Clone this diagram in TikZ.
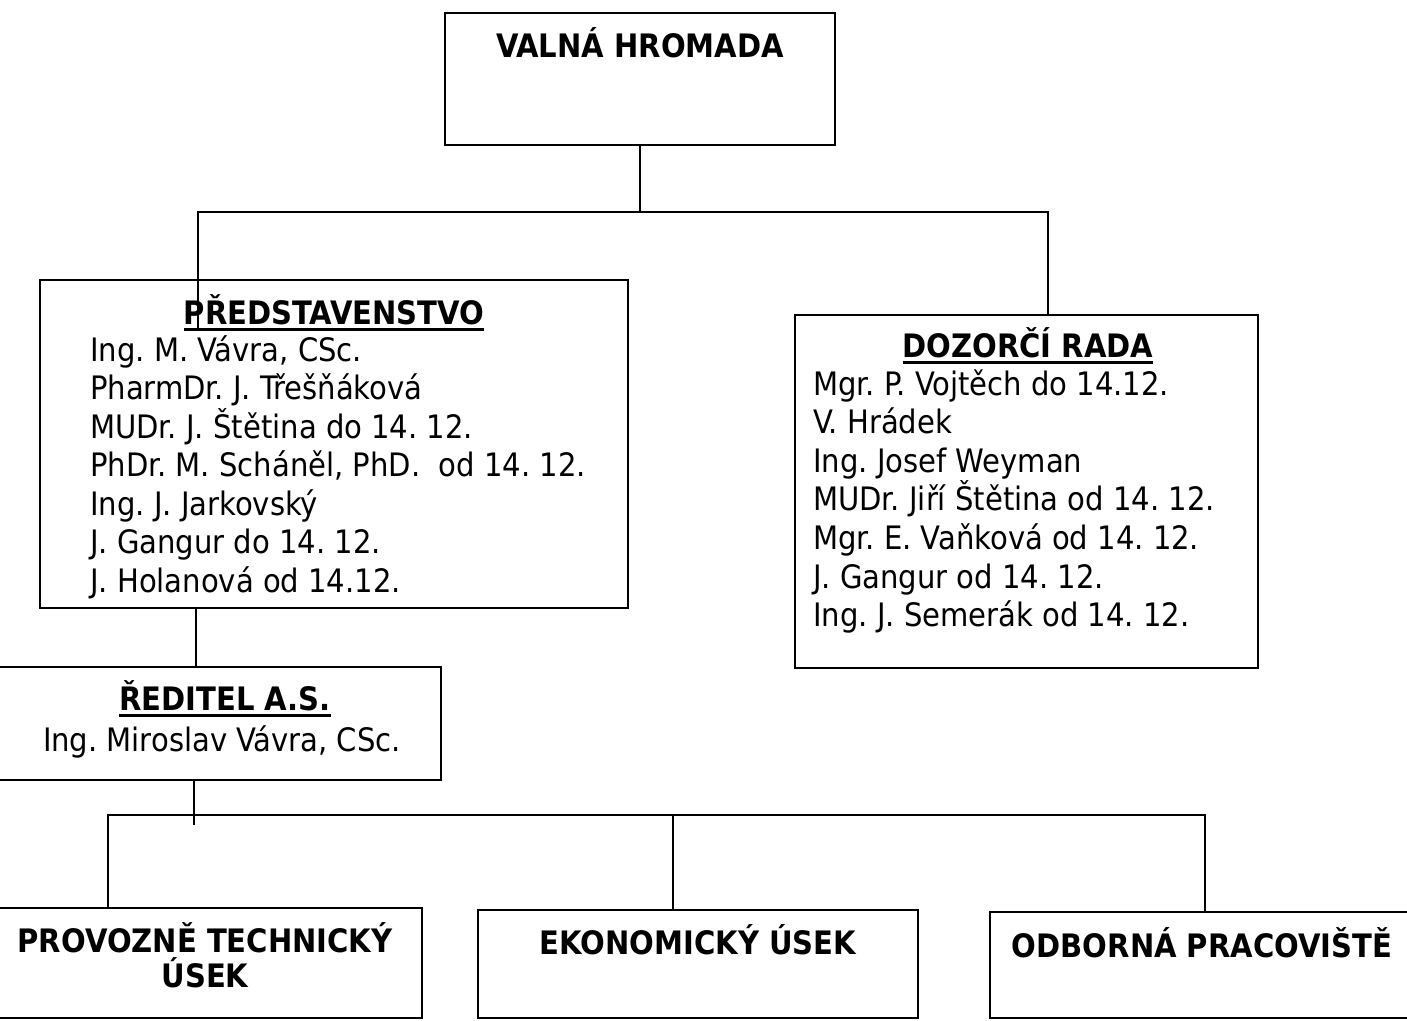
\documentclass[tikz,border=0pt]{standalone}
\usepackage{fontspec}
\setmainfont{DejaVu Sans Condensed}[BoldFont={DejaVu Sans Condensed Bold}]
\frenchspacing
\newcommand{\podtrh}[1]{\setbox0\hbox{#1}\rlap{\rule[-7pt]{\wd0}{2.8pt}}\box0}
\tikzset{%
    orgbox/.style={draw, line width=1.5pt, inner sep=0pt},
    spoj/.style={line width=1.5pt},
    titul/.style={anchor=base, inner sep=0pt, font=\fontsize{32.3}{38}\selectfont\bfseries},
    clen/.style={anchor=base west, inner sep=0pt, font=\fontsize{32.3}{38}\selectfont}
}

\begin{document}
\begin{tikzpicture}[x=1pt,y=-1pt]
\useasboundingbox (0,0) rectangle (1407,1020);

% boxes
\node[orgbox, minimum width=390pt, minimum height=132pt] (valna) at (640,79) {};
\node[orgbox, minimum width=588pt, minimum height=328pt] (pred) at (334,444) {};
\node[orgbox, minimum width=463pt, minimum height=353pt] (dozor) at (1026.5,491.5) {};
\node[orgbox, minimum width=453pt, minimum height=113pt] (redit) at (214.5,723.5) {};
\node[orgbox, minimum width=434pt, minimum height=110pt] (prov) at (205,963) {};
\node[orgbox, minimum width=440pt, minimum height=108pt] (ekon) at (698,964) {};
\node[orgbox, minimum width=430pt, minimum height=106pt] (odb) at (1205,965) {};

% texts
\node[titul] (valnaT) at (640,57) {VALNÁ HROMADA};
\node[titul] (predT) at (334,324) {\podtrh{PŘEDSTAVENSTVO}};
\foreach \jm [count=\i] in {{Ing. M. Vávra, CSc.}, PharmDr. J. Třešňáková, MUDr. J. Štětina do 14. 12., {PhDr. M. Scháněl, PhD.\ \ od 14. 12.}, Ing. J. Jarkovský, J. Gangur do 14. 12., J. Holanová od 14.12.}
  \node[clen] (pc\i) at (90,{361+38.5*(\i-1)}) {\jm};

\node[titul] (dozorT) at (1028,357) {\podtrh{DOZORČÍ RADA}};
\foreach \jm [count=\i] in {Mgr. P. Vojtěch do 14.12., V. Hrádek, Ing. Josef Weyman, MUDr. Jiří Štětina od 14. 12., Mgr. E. Vaňková od 14. 12., J. Gangur od 14. 12., Ing. J. Semerák od 14. 12.}
  \node[clen] (dc\i) at (813,{395+38.6*(\i-1)}) {\jm};

\node[titul] (reditT) at (225,710) {\podtrh{ŘEDITEL A.S.}};
\node[clen, anchor=base] (reditJ) at (222,751) {Ing. Miroslav Vávra, CSc.};

\node[titul] (provT) at (205,952) {PROVOZNĚ TECHNICKÝ};
\node[titul] (provT2) at (205,987) {ÚSEK};
\node[titul] (ekonT) at (698,954) {EKONOMICKÝ ÚSEK};
\node[titul] (odbT) at (1202,957) {ODBORNÁ PRACOVIŠTĚ};

% connectors
\coordinate (uzel1) at (640,212);
\coordinate (lp) at (198,330);
\coordinate (pp) at (1048,0);
\draw[spoj] (valna.south) -- (uzel1);
\draw[spoj] (uzel1) -| (lp);
\draw[spoj] (uzel1) -| (pp |- dozor.north);

\coordinate (pr) at (196,0);
\draw[spoj] (pr |- pred.south) -- (pr |- redit.north);

\coordinate (rs) at (194,825);
\draw[spoj] (rs |- redit.south) -- (rs);
\coordinate (s1) at (108,815);
\coordinate (s2) at (673,815);
\coordinate (s3) at (1205,815);
\draw[spoj] (s1 |- prov.north) -- (s1) -- (s3) -- (s3 |- odb.north);
\draw[spoj] (s2) -- (s2 |- ekon.north);
\end{tikzpicture}
\end{document}
